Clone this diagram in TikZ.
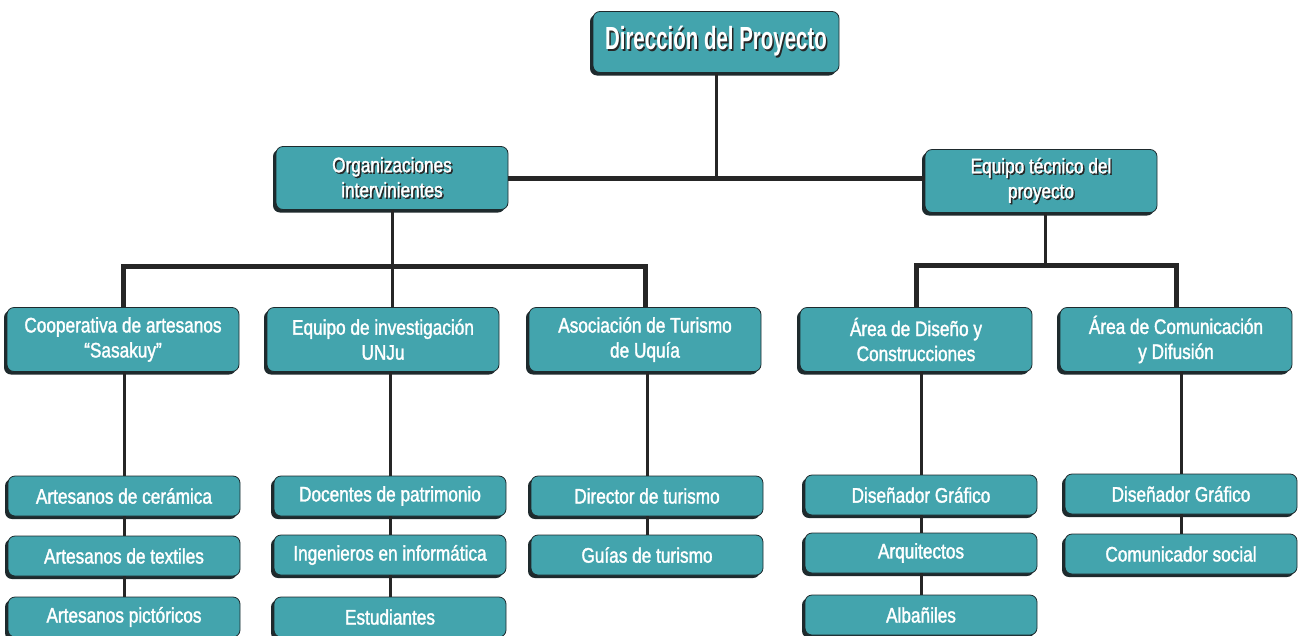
\documentclass[tikz,border=0pt]{standalone}
\usepackage{fontspec}
\setmainfont{Liberation Sans}[FakeStretch=0.82, FakeBold=1.6]
\newfontfamily\titlefont{Liberation Sans}[FakeStretch=0.64]
\usetikzlibrary{shadows}
\definecolor{turquesa}{RGB}{67,164,173}
\definecolor{borde}{RGB}{30,42,45}
\newcommand{\sombra}[1]{\makebox[0pt][l]{\hspace{1.5pt}\raisebox{-1.5pt}{\textcolor{black!85}{#1}}}#1}

\tikzset{
	caja/.style={draw=borde, line width=0.8pt, fill=turquesa, rounded corners=7pt,
		text=white, align=center, inner sep=0pt, font=\fontsize{21}{25}\selectfont,
		drop shadow={shadow xshift=-3pt, shadow yshift=-3pt, fill=borde, opacity=1}},
	alta/.style={caja, minimum width=232pt, minimum height=64pt},
	baja/.style={caja, minimum width=232pt, minimum height=40pt},
	bus/.style={line width=5pt, draw=black!85},
	rama/.style={line width=3pt, draw=black!85},
}

\begin{document}
\begin{tikzpicture}[x=1pt,y=-1pt]
		\useasboundingbox (0,0) rectangle (1300,635);

		\node[alta, minimum width=246pt, minimum height=61pt,
			font=\titlefont\bfseries\fontsize{32}{36}\selectfont] at (716,42)(dir){\sombra{Dirección del Proyecto}};

		\node[alta, minimum height=63pt] at (392,178)(org){\sombra{Organizaciones}\\\sombra{intervinientes}};
		\node[alta, minimum height=63pt] at (1041,181)(tec){\sombra{Equipo técnico del}\\\sombra{proyecto}};

		\node[alta] at (123,339.5)(coop){Cooperativa de artesanos\\“Sasakuy”};
		\node[alta] at (383,339.5)(inv){Equipo de investigación\\UNJu};
		\node[alta] at (645,339.5)(tur){Asociación de Turismo\\de Uquía};
		\node[alta] at (916,339.5)(dis){Área de Diseño y\\Construcciones};
		\node[alta] at (1176,339.5)(com){Área de Comunicación\\y Difusión};

		\node[baja] at (124,496)(cer){Artesanos de cerámica};
		\node[baja] at (124,556)(tex){Artesanos de textiles};
		\node[baja] at (124,617)(pic){Artesanos pictóricos};

		\node[baja] at (390,496)(doc){Docentes de patrimonio};
		\node[baja] at (390,555)(ing){Ingenieros en informática};
		\node[baja] at (390,617)(est){Estudiantes};

		\node[baja] at (647,496)(dtu){Director de turismo};
		\node[baja] at (647,555)(gui){Guías de turismo};

		\node[baja] at (921,495)(dgr){Diseñador Gráfico};
		\node[baja] at (921,553)(arq){Arquitectos};
		\node[baja] at (921,615)(alb){Albañiles};

		\node[baja] at (1181,494)(dgc){Diseñador Gráfico};
		\node[baja] at (1181,554)(cso){Comunicador social};

		\coordinate (bi) at (392,266);
		\coordinate (bd) at (1045,265);

		\draw[rama] (dir.south) -- (dir.south |- org.east);
		\draw[bus] (org.east) -- (org.east -| tec.west);

		\draw[rama] (org.south) -- (org.south |- inv.north);
		\draw[bus] (coop.north) |- (bi) -| (tur.north);
		\draw[rama] (bd |- tec.south) -- (bd);
		\draw[bus] (dis.north) |- (bd) -| (com.north);

		\draw[rama] (cer.north |- coop.south) -- (cer.north) (cer.south) -- (tex.north) (tex.south) -- (pic.north);
		\draw[rama] (doc.north |- inv.south) -- (doc.north) (doc.south) -- (ing.north) (ing.south) -- (est.north);
		\draw[rama] (dtu.north |- tur.south) -- (dtu.north) (dtu.south) -- (gui.north);
		\draw[rama] (dgr.north |- dis.south) -- (dgr.north) (dgr.south) -- (arq.north) (arq.south) -- (alb.north);
		\draw[rama] (dgc.north |- com.south) -- (dgc.north) (dgc.south) -- (cso.north);
	\end{tikzpicture}
\end{document}
